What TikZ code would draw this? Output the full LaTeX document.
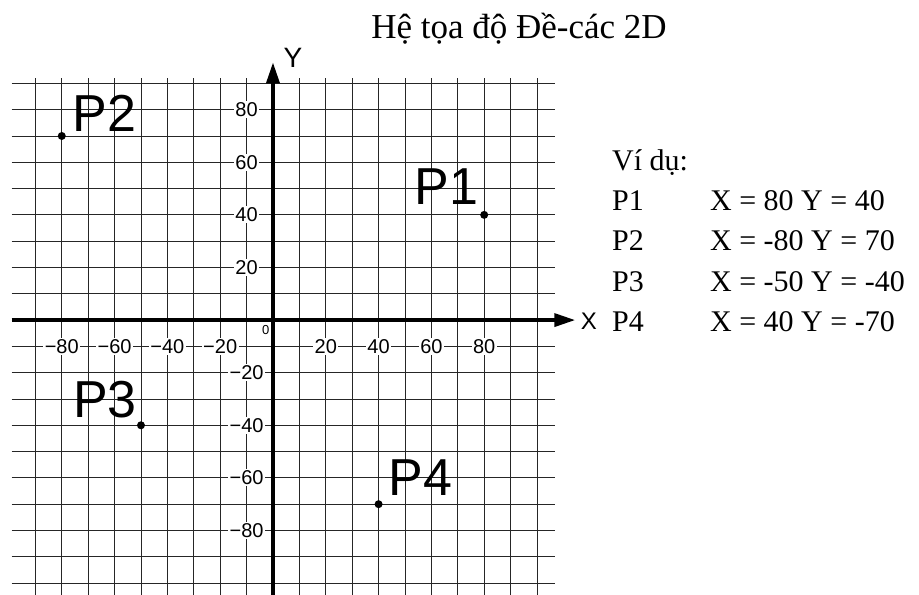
\documentclass[tikz,border=0pt]{standalone}
\usepackage{fontspec}
\setmainfont{Liberation Serif}
\newfontfamily\isofont{Liberation Sans}
\usetikzlibrary{arrows.meta, positioning}

\begin{document}
\begin{tikzpicture}[x=2.64pt, y=2.63pt,
	gridline/.style={draw=black!85, line width=0.9pt},
	axis/.style={line width=3.6pt, -{Triangle[length=21pt, width=13pt]}},
	ticklabel/.style={fill=white, inner sep=1.5pt, font=\isofont\fontsize{20}{20}\selectfont},
	ptlabel/.style={inner sep=0pt, font=\isofont\fontsize{52}{52}\selectfont},
	dot/.style={circle, fill=black, inner sep=0pt, minimum size=8pt},
	listtext/.style={anchor=base west, inner sep=0pt, font=\fontsize{30}{30}\selectfont}
	]
	\useasboundingbox (-103.4,-104.2) rectangle (244.7,121.7);
	% grid
	\foreach \y in {-100,-90,...,90} {\draw[gridline] (-99,\y) -- (107,\y);}
	\foreach \x in {-90,-80,...,100} {\ifnum\x=0 \else \draw[gridline] (\x,-106) -- (\x,92);\fi}
	% scale numbers
	\foreach \v in {20,40,60,80} {
		\node[ticklabel] (xp\v) at (\v,-10) {\v};
		\node[ticklabel] (xn\v) at (-\v,-10) {−\v};
		\node[ticklabel] (yp\v) at (-10,\v) {\v};
		\node[ticklabel] (yn\v) at (-10,-\v) {−\v};
	}
	\node[font=\isofont\fontsize{13}{13}\selectfont] (zero) at (-2.7,-3.8) {0};
	% axes
	\coordinate (xstart) at (-99,0);
	\coordinate (xend) at (114.5,0);
	\coordinate (ystart) at (0,-106);
	\coordinate (yend) at (0,98);
	\draw[axis] (xstart) -- (xend);
	\draw[axis] (ystart) -- (yend);
	\node[font=\isofont\fontsize{28}{28}\selectfont] (ylab) at (7.6,99.6) {Y};
	\node[font=\isofont\fontsize{24}{24}\selectfont] (xlab) at (119.7,-0.4) {X};
	% points
	\node[dot] (p1) at (80,40) {};
	\node[dot] (p2) at (-80,70) {};
	\node[dot] (p3) at (-50,-40) {};
	\node[dot] (p4) at (40,-70) {};
	\node[ptlabel, anchor=base east] (l1) at ([shift={(-6pt,10pt)}]p1.center) {P1};
	\node[ptlabel, anchor=base west] (l2) at ([shift={(11pt,4pt)}]p2.center) {P2};
	\node[ptlabel, anchor=base east] (l3) at ([shift={(-4pt,8pt)}]p3.center) {P3};
	\node[ptlabel, anchor=base west] (l4) at ([shift={(10pt,9pt)}]p4.center) {P4};
	% title and example list
	\node[font=\fontsize{35}{35}\selectfont] (title) at (93.2,110.6) {Hệ tọa độ Đề-các 2D};
	\node[listtext] (vidu) at (128.4,57.0) {Ví dụ:};
	\node[listtext] (n1) at (128.4,41.8) {P1};
	\node[listtext] (n2) at (128.4,26.6) {P2};
	\node[listtext] (n3) at (128.4,11.0) {P3};
	\node[listtext] (n4) at (128.4,-4.2) {P4};
	\node[listtext] (v1) at (165.5,41.8) {X = 80 Y = 40};
	\node[listtext] (v2) at (165.5,26.6) {X = -80 Y = 70};
	\node[listtext] (v3) at (165.5,11.0) {X = -50 Y = -40};
	\node[listtext] (v4) at (165.5,-4.2) {X = 40 Y = -70};
\end{tikzpicture}
\end{document}
